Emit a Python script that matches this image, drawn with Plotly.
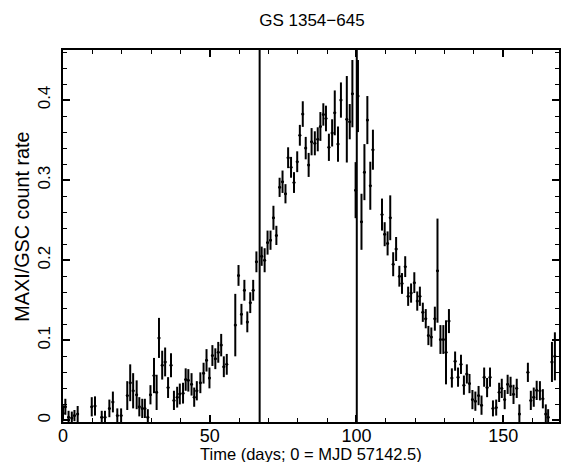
import plotly.graph_objects as go

title_text = "GS 1354\u2212645"
x_title = "Time (days; 0 = MJD 57142.5)"
y_title = "MAXI/GSC count rate"

t = [0.0, 0.8, 1.9, 3.0, 3.9, 5.0, 9.8, 10.9, 13.2, 14.3, 15.8, 17.0, 18.5, 19.8,
     21.9, 22.9, 23.9, 25.1, 26.0, 27.0, 27.9, 28.9, 29.8, 31.0, 31.9, 32.7, 33.8,
     34.8, 35.8, 36.8, 37.8, 38.9, 39.8, 40.9, 41.8, 42.7, 43.8, 44.7, 45.6, 46.8,
     47.9, 48.9, 49.9, 50.9, 51.9, 52.9, 53.9, 54.8, 55.8, 58.7, 59.8, 60.8, 61.8,
     62.8, 63.8, 64.8, 65.9, 67.7, 68.7, 69.7, 70.7, 71.7, 72.7, 73.8, 74.8, 75.8,
     76.7, 77.7, 78.7, 79.8, 80.7, 81.7, 82.7, 83.7, 84.7, 85.8, 86.8, 87.7, 88.7,
     89.6, 90.6, 91.7, 92.6, 93.7, 94.7, 96.7, 97.7, 98.6, 99.7, 100.5, 101.7,
     102.7, 103.7, 104.7, 105.6, 108.7, 109.6, 110.6, 111.5, 112.5, 113.5, 114.6,
     115.5, 116.6, 117.6, 118.6, 119.7, 120.7, 121.6, 122.6, 123.6, 124.5, 125.5,
     126.7, 127.6, 128.6, 129.6, 130.5, 131.5, 132.5, 133.6, 134.6, 135.6, 136.6,
     137.6, 138.5, 139.5, 140.5, 141.6, 142.6, 143.5, 144.5, 145.5, 146.5, 147.6,
     148.6, 149.5, 150.5, 151.5, 152.5, 153.5, 154.6, 155.5, 158.4, 159.4, 160.4,
     161.4, 162.5, 163.5, 164.5, 165.3, 166.6, 167.6]

rate = [0.009, 0.017, 0.004, 0.003, 0.006, 0.008, 0.017, 0.018, 0.004, 0.004, 0.015,
        0.023, 0.006, 0.006, 0.031, 0.047, 0.037, 0.032, 0.017, 0.015, 0.015, 0.004,
        0.032, 0.056, 0.035, 0.103, 0.069, 0.073, 0.041, 0.069, 0.025, 0.029, 0.033,
        0.034, 0.051, 0.050, 0.045, 0.029, 0.037, 0.047, 0.059, 0.075, 0.053, 0.081,
        0.077, 0.085, 0.094, 0.067, 0.070, 0.119, 0.181, 0.1325, 0.1625, 0.123, 0.147,
        0.1625, 0.198, 0.205, 0.200, 0.222, 0.225, 0.253, 0.231, 0.291, 0.298, 0.283,
        0.328, 0.316, 0.297, 0.323, 0.356, 0.3825, 0.340, 0.319, 0.348, 0.346, 0.351,
        0.367, 0.382, 0.377, 0.341, 0.359, 0.384, 0.345, 0.400, 0.376, 0.373, 0.408,
        0.2875, 0.405, 0.248, 0.310, 0.375, 0.293, 0.338, 0.257, 0.2325, 0.221, 0.253,
        0.195, 0.214, 0.180, 0.171, 0.192, 0.155, 0.159, 0.172, 0.149, 0.155, 0.135,
        0.127, 0.106, 0.104, 0.127, 0.187, 0.101, 0.101, 0.085, 0.124, 0.053, 0.074,
        0.054, 0.070, 0.044, 0.058, 0.046, 0.026, 0.024, 0.031, 0.019, 0.054, 0.041,
        0.054, 0.015, 0.016, 0.035, 0.040, 0.026, 0.045, 0.0425, 0.0325, 0.040, 0.008,
        0.060, 0.025, 0.029, 0.0375, 0.037, 0.027, 0.008, 0.004, 0.073, 0.080]

err = [0.010, 0.010, 0.008, 0.008, 0.007, 0.010, 0.012, 0.012, 0.008, 0.008, 0.011,
       0.013, 0.009, 0.009, 0.018, 0.023, 0.022, 0.018, 0.012, 0.012, 0.012, 0.010,
       0.012, 0.022, 0.022, 0.025, 0.018, 0.018, 0.013, 0.015, 0.012, 0.013, 0.013,
       0.013, 0.014, 0.014, 0.014, 0.012, 0.012, 0.013, 0.013, 0.014, 0.013, 0.013,
       0.013, 0.013, 0.014, 0.013, 0.013, 0.039, 0.013, 0.013, 0.013, 0.013, 0.013,
       0.013, 0.013, 0.012, 0.015, 0.015, 0.012, 0.015, 0.012, 0.012, 0.014, 0.012,
       0.013, 0.013, 0.013, 0.013, 0.013, 0.016, 0.014, 0.015, 0.017, 0.015, 0.015,
       0.018, 0.014, 0.016, 0.017, 0.017, 0.028, 0.022, 0.022, 0.054, 0.022, 0.042,
       0.035, 0.045, 0.035, 0.035, 0.030, 0.030, 0.025, 0.020, 0.015, 0.015, 0.028,
       0.015, 0.015, 0.013, 0.013, 0.013, 0.012, 0.012, 0.013, 0.012, 0.012, 0.012,
       0.012, 0.012, 0.012, 0.015, 0.065, 0.018, 0.018, 0.040, 0.015, 0.012, 0.012,
       0.012, 0.012, 0.012, 0.012, 0.012, 0.012, 0.012, 0.012, 0.012, 0.012, 0.012,
       0.012, 0.010, 0.010, 0.012, 0.012, 0.012, 0.012, 0.012, 0.012, 0.012, 0.012,
       0.012, 0.012, 0.012, 0.012, 0.012, 0.012, 0.012, 0.010, 0.025, 0.030]

vlines = [67.0, 100.1]

fig = go.Figure()
fig.add_trace(go.Scatter(
    x=t, y=rate, mode="markers",
    marker=dict(color="black", size=3),
    error_y=dict(type="data", array=err, visible=True, color="black", thickness=2, width=0),
    error_x=dict(type="constant", value=0.45, visible=True, color="black", thickness=1.2, width=0),
    showlegend=False, cliponaxis=True,
))

for xv in vlines:
    fig.add_shape(type="line", xref="x", yref="paper", x0=xv, x1=xv, y0=0, y1=1,
                  line=dict(color="black", width=2))

font = "Liberation Sans, Arial, sans-serif"
fig.update_layout(
    width=562, height=462,
    margin=dict(l=63, r=1, t=50, b=40),
    paper_bgcolor="white", plot_bgcolor="white",
    font=dict(family=font, color="black", size=14),
    title=dict(text=title_text, x=0.555, xanchor="center", y=0.957, yanchor="middle",
               font=dict(size=17, family=font, color="black")),
)
fig.update_xaxes(
    range=[0, 169], showgrid=False, zeroline=False,
    showline=True, linecolor="black", linewidth=1.5, mirror="ticks",
    ticks="inside", ticklen=7, tickwidth=1.5, tickcolor="black",
    tickvals=[0, 50, 100, 150], ticktext=["0", "50", "100", "150"],
    ticklabelstandoff=-3,
    minor=dict(dtick=10, tick0=0, ticks="inside", ticklen=4, tickwidth=1.2, tickcolor="black"),
    tickfont=dict(size=18),
)
fig.update_yaxes(
    range=[-0.002, 0.4625], showgrid=False, zeroline=False,
    showline=True, linecolor="black", linewidth=1.5, mirror="ticks",
    ticks="inside", ticklen=7, tickwidth=1.5, tickcolor="black",
    tickvals=[0, 0.1, 0.2, 0.3, 0.4], ticktext=["0", "0.1", "0.2", "0.3", "0.4"],
    tickangle=-90, ticklabelstandoff=4,
    minor=dict(dtick=0.02, tick0=0, ticks="inside", ticklen=4, tickwidth=1.2, tickcolor="black"),
    tickfont=dict(size=17),
)

fig.add_annotation(text=x_title, xref="paper", yref="paper", x=0.5, y=-0.0847,
                   xanchor="center", yanchor="middle", showarrow=False,
                   font=dict(size=16.5, family=font, color="black"))
fig.add_annotation(text=y_title, xref="paper", yref="paper", x=-0.0843, y=0.5255,
                   xanchor="center", yanchor="middle", showarrow=False, textangle=-90,
                   font=dict(size=19.8, family=font, color="black"))

fig.write_html("out.html")
